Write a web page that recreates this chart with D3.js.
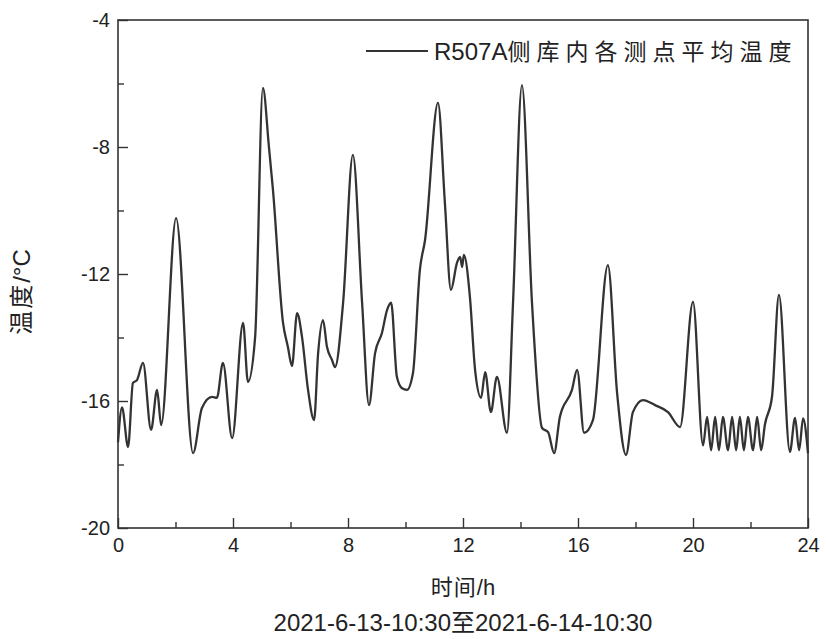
<!DOCTYPE html>
<html>
<head>
<meta charset="utf-8">
<script src="https://cdn.jsdelivr.net/npm/d3@7"></script>
<style>
  html, body { margin: 0; padding: 0; background: #fff; }
  svg { display: block; }
  text { font-family: "Liberation Sans", Arial, "Noto Sans CJK SC", sans-serif; fill: #222; }
</style>
</head>
<body>
<svg id="chart" width="826" height="639"></svg>
<script>
// ---- data (hours since 2021-6-13 10:30, °C) ----
const hours = [0, 0.14, 0.35, 0.52, 0.66, 0.87, 1.15, 1.36, 1.50, 2.02, 2.61, 2.92, 3.27, 3.44, 3.65, 3.97,
  4.35, 4.52, 4.77, 5.04, 5.25, 5.39, 5.74, 5.91, 6.05, 6.23, 6.40, 6.61, 6.82, 6.96, 7.13, 7.27, 7.44, 7.55, 7.83,
  8.17, 8.49, 8.73, 8.94, 9.18, 9.36, 9.50, 9.70, 9.88, 10.05, 10.26, 10.50, 10.68, 11.13, 11.37, 11.58, 11.79,
  11.90, 11.97, 12.03, 12.24, 12.42, 12.63, 12.77, 12.97, 13.18, 13.53, 13.74, 14.05, 14.40, 14.75, 14.96, 15.17,
  15.37, 15.79, 15.97, 16.21, 16.52, 17.04, 17.36, 17.67, 17.91, 18.26, 18.68, 19.13, 19.55, 20.0, 20.35, 20.49,
  20.63, 20.77, 20.90, 21.04, 21.22, 21.36, 21.50, 21.63, 21.77, 21.91, 22.09, 22.23, 22.37, 22.50, 22.75, 22.99,
  23.37, 23.55, 23.69, 23.83, 24.0];
const avgTemp = [-17.3, -16.2, -17.45, -15.43, -15.34, -14.8, -16.91, -15.65, -16.76, -10.24, -17.64, -16.22, -15.87,
  -15.9, -14.8, -17.17, -13.54, -15.4, -13.98, -6.14, -8.0, -9.35, -13.54, -14.3, -14.9, -13.23, -13.98, -15.65,
  -16.6, -14.5, -13.45, -14.3, -14.7, -14.93, -12.9, -8.25, -12.9, -16.13, -14.5, -13.86, -13.13, -12.9, -15.24,
  -15.6, -15.65, -15.12, -11.87, -10.93, -6.61, -9.76, -12.5, -11.65, -11.46, -11.78, -11.4, -12.72, -15.02, -15.9,
  -15.09, -16.35, -15.24, -17.0, -12.91, -6.05, -12.91, -16.85, -16.98, -17.64, -16.5, -15.65, -15.02, -17.0, -16.6,
  -11.72, -15.75, -17.7, -16.35, -15.97, -16.13, -16.35, -16.82, -12.88, -17.4, -16.5, -17.55, -16.5, -17.55, -16.5,
  -17.55, -16.5, -17.55, -16.5, -17.55, -16.5, -17.55, -16.5, -17.55, -16.75, -15.85, -12.66, -17.6, -16.53, -17.55,
  -16.55, -17.65];
const xMajorTicks = [0, 4, 8, 12, 16, 20, 24];
const xMinorTicks = [2, 6, 10, 14, 18, 22];
const yMajorTicks = [-20, -16, -12, -8, -4];
const yMinorTicks = [-18, -14, -10, -6];
const seriesLatin = "R507A";
const seriesCJK = "侧库内各测点平均温度";
const xTitle = ["时间", "/h"];
const yTitle = ["温度", "/°C"];
const subTitle = ["2021-6-13-10:30", "至", "2021-6-14-10:30"];

// ---- layout ----
const L = 118, R = 808, T = 20, B = 528;
const CJK = '"Noto Sans CJK SC", sans-serif';
const svg = d3.select("#chart");
svg.append("rect").attr("width", 826).attr("height", 639).attr("fill", "#fff");

const x = d3.scaleLinear().domain([0, 24]).range([L, R]);
const y = d3.scaleLinear().domain([-20, -4]).range([B, T]);
const fmt = d => String(d);

function styleAxis(g) {
  g.selectAll("path.domain").remove();
  g.selectAll("line").attr("stroke", "#333").attr("stroke-width", 1.4);
  g.selectAll("text").attr("font-size", 20).attr("fill", "#222")
    .attr("font-family", '"Liberation Sans", Arial, sans-serif');
}

// x axis
const gx = svg.append("g").attr("transform", `translate(0,${B})`)
  .call(d3.axisBottom(x).tickValues(xMajorTicks).tickFormat(fmt).tickSize(-10).tickPadding(10));
styleAxis(gx);
gx.selectAll("text").attr("dy", "0.71em");
const gx2 = svg.append("g").attr("transform", `translate(0,${B})`)
  .call(d3.axisBottom(x).tickValues(xMinorTicks).tickFormat("").tickSize(-6));
styleAxis(gx2);

// y axis
const gy = svg.append("g").attr("transform", `translate(${L},0)`)
  .call(d3.axisLeft(y).tickValues(yMajorTicks).tickFormat(fmt).tickSize(-10).tickPadding(8));
styleAxis(gy);
const gy2 = svg.append("g").attr("transform", `translate(${L},0)`)
  .call(d3.axisLeft(y).tickValues(yMinorTicks).tickFormat("").tickSize(-6));
styleAxis(gy2);

// frame
svg.append("rect").attr("x", L).attr("y", T).attr("width", R - L).attr("height", B - T)
  .attr("fill", "none").attr("stroke", "#333").attr("stroke-width", 1.6);

// line
const pts = hours.map((h, i) => [h, avgTemp[i]]);
const line = d3.line().x(d => x(d[0])).y(d => y(d[1])).curve(d3.curveMonotoneX);
svg.append("path").datum(pts).attr("d", line)
  .attr("fill", "none").attr("stroke", "#333").attr("stroke-width", 2.3)
  .attr("stroke-linejoin", "round");

// legend
svg.append("line").attr("x1", 366).attr("x2", 428).attr("y1", 51).attr("y2", 51)
  .attr("stroke", "#333").attr("stroke-width", 1.8);
const lt = svg.append("text").attr("x", 434).attr("y", 60).attr("font-size", 24);
lt.append("tspan").text(seriesLatin);
lt.append("tspan").attr("font-size", 23).attr("letter-spacing", 6)
  .attr("font-family", CJK).text(seriesCJK);

// axis titles
const yt = svg.append("text").attr("transform", `translate(30,292) rotate(-90)`)
  .attr("text-anchor", "middle").attr("font-size", 24);
yt.append("tspan").attr("font-family", CJK).attr("letter-spacing", 2).text(yTitle[0]);
yt.append("tspan").text(yTitle[1]);

const xt = svg.append("text").attr("x", (L + R) / 2).attr("y", 595).attr("text-anchor", "middle")
  .attr("font-size", 22);
xt.append("tspan").attr("font-family", CJK).attr("letter-spacing", 1).text(xTitle[0]);
xt.append("tspan").text(xTitle[1]);

const st = svg.append("text").attr("x", (L + R) / 2).attr("y", 631).attr("text-anchor", "middle")
  .attr("font-size", 24);
st.append("tspan").text(subTitle[0]);
st.append("tspan").attr("font-family", CJK).text(subTitle[1]);
st.append("tspan").text(subTitle[2]);
</script>
</body>
</html>
